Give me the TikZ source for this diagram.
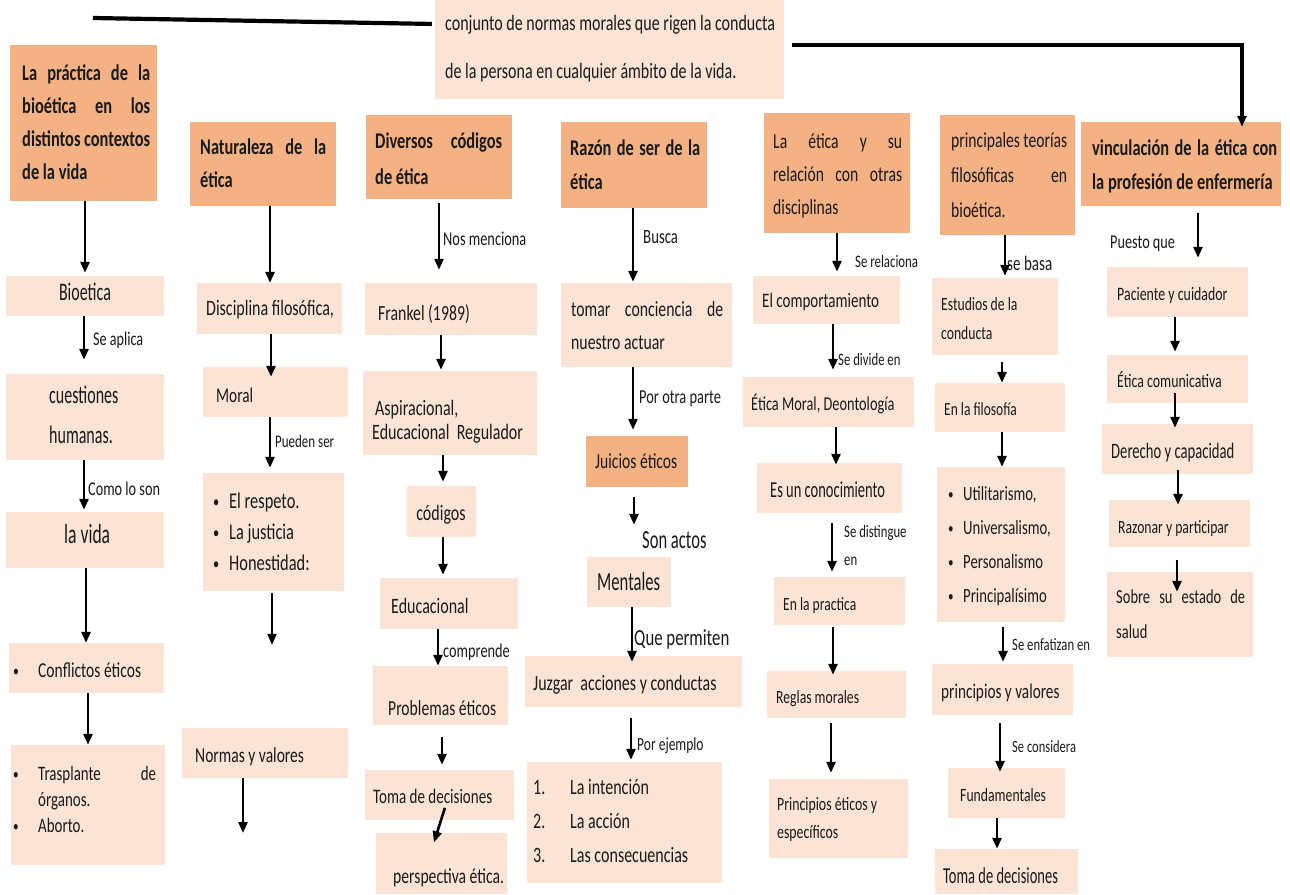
\documentclass[tikz,border=0pt]{standalone}
\usepackage{fontspec}
\setmainfont{Carlito}[FakeStretch=0.73]
\usepackage{graphicx}
\usetikzlibrary{arrows.meta,fit}
\definecolor{hdr}{HTML}{F4B183}
\definecolor{lite}{HTML}{FBE4D5}
\definecolor{ink}{HTML}{1A1A1A}
\newcommand\fsz[1]{\pgfmathsetmacro\myfs{#1*1.045}\fontsize{\myfs}{\myfs}\selectfont}
\newcommand\ml[2]{\vtop{\baselineskip=#1pt\lineskiplimit=-1000pt\relax #2}}
\newcommand\myl[1]{\hbox{#1}}
\newcommand\jl[2]{\hbox to #1pt{#2}}
\newcommand\tallt[2][1.15]{\scalebox{1}[#1]{#2}}
\newcommand\bul[1]{\makebox[#1pt][l]{\raisebox{1pt}{\scalebox{0.75}{\textbullet}}}}
\begin{document}
\begin{tikzpicture}[x=1pt,y=-1pt,
  hbox/.style={fill=hdr, inner sep=0pt, draw=none},
  lbox/.style={fill=lite, inner sep=0pt, draw=none},
  txt/.style={inner sep=0pt, anchor=base west, text=ink},
  lbl/.style={inner sep=0pt, anchor=base west, text=ink},
  arr/.style={draw=black, line width=2.6pt, -{Triangle[length=11pt,width=9pt]}},
  bigline/.style={draw=black, line width=4.2pt}]
\fill[white] (0,0) rectangle (1290,894);
\useasboundingbox (0,0) rectangle (1290,894);

% ---------- boxes ----------
\node[lbox, fit={(435,0) (784,99)}] (top) {};
\node[hbox, fit={(10,45) (157,201)}] (hdr1) {};
\node[hbox, fit={(190,122) (336,206)}] (hdr2) {};
\node[hbox, fit={(366,115) (512,199)}] (hdr3) {};
\node[hbox, fit={(561,122) (707,208)}] (hdr4) {};
\node[hbox, fit={(764,113) (910,233)}] (hdr5) {};
\node[hbox, fit={(940,115) (1075,235)}] (hdr6) {};
\node[hbox, fit={(1081,122) (1281,206)}] (hdr7) {};

\node[lbox, fit={(6,276) (164,316)}] (bio) {};
\node[lbox, fit={(6,374) (164,460)}] (cq) {};
\node[lbox, fit={(6,512) (164,568)}] (vida) {};
\node[lbox, fit={(9,643) (164,693)}] (conf) {};
\node[lbox, fit={(11,745) (165,865)}] (tras) {};

\node[lbox, fit={(197,283) (342,334)}] (disc) {};
\node[lbox, fit={(203,367) (348,417)}] (moral) {};
\node[lbox, fit={(203,473) (344,591)}] (bull) {};
\node[lbox, fit={(182,728) (348,778)}] (normas) {};

\node[lbox, fit={(365,283) (537,335)}] (frank) {};
\node[lbox, fit={(363,371) (537,455)}] (asp) {};
\node[lbox, fit={(407,486) (476,537)}] (cod) {};
\node[lbox, fit={(380,578) (518,629)}] (edu) {};
\node[lbox, fit={(373,666) (508,725)}] (prob) {};
\node[lbox, fit={(365,770) (514,820)}] (tomaA) {};
\node[lbox, fit={(376,833) (507,894)}] (persp) {};

\node[lbox, fit={(561,283) (732,367)}] (tom) {};
\node[hbox, fit={(586,436) (688,487)}] (jui) {};
\node[lbox, fit={(587,557) (671,607)}] (ment) {};
\node[lbox, fit={(525,656) (742,707)}] (juz) {};
\node[lbox, fit={(527,762) (722,883)}] (num) {};

\node[lbox, fit={(753,276) (900,324)}] (comp) {};
\node[lbox, fit={(743,377) (914,427)}] (etm) {};
\node[lbox, fit={(757,463) (902,513)}] (conoc) {};
\node[lbox, fit={(774,577) (905,625)}] (prac) {};
\node[lbox, fit={(767,671) (906,718)}] (reg) {};
\node[lbox, fit={(769,779) (908,858)}] (ppe) {};

\node[lbox, fit={(932,278) (1058,355)}] (est) {};
\node[lbox, fit={(935,383) (1065,432)}] (fil) {};
\node[lbox, fit={(937,467) (1065,622)}] (ut) {};
\node[lbox, fit={(932,664) (1073,715)}] (pv) {};
\node[lbox, fit={(948,768) (1065,818)}] (fund) {};
\node[lbox, fit={(935,849) (1078,894)}] (tdd) {};

\node[lbox, fit={(1107,267) (1248,317)}] (pac) {};
\node[lbox, fit={(1107,355) (1248,403)}] (etc) {};
\node[lbox, fit={(1102,424) (1253,474)}] (der) {};
\node[lbox, fit={(1109,500) (1250,547)}] (raz) {};
\node[lbox, fit={(1107,572) (1253,657)}] (sob) {};

% ---------- texts ----------
\node[txt, font=\fsz{21}] (ttop) at (445,30) {\ml{48}{\myl{conjunto de normas morales que rigen la conducta}\myl{de la persona en cualquier ámbito de la vida.}}};
\node[txt, font=\bfseries\fsz{21.5}] (th1) at (22,80) {\ml{33}{\jl{128}{La\hfill práctica\hfill de\hfill la}\jl{128}{bioética\hfill en\hfill los}\jl{128}{distintos\hfill contextos}\myl{de la vida}}};
\node[txt, font=\bfseries\fsz{21.5}] (th2) at (200,154) {\ml{33}{\jl{126}{Naturaleza\hfill de\hfill la}\myl{ética}}};
\node[txt, font=\bfseries\fsz{21.5}] (th3) at (375,148) {\ml{36}{\jl{127}{Diversos\hfill códigos}\myl{de ética}}};
\node[txt, font=\bfseries\fsz{21.5}] (th4) at (570,155) {\ml{34}{\jl{130}{Razón\hfill de\hfill ser\hfill de\hfill la}\myl{ética}}};
\node[txt, font=\fsz{20.5}] (th5) at (773,148) {\ml{33}{\jl{129}{La\hfill ética\hfill y\hfill su}\jl{129}{relación\hfill con\hfill otras}\myl{disciplinas}}};
\node[txt, font=\fsz{20.5}] (th6) at (951,147) {\ml{35}{\jl{116}{principales\hfill teorías}\jl{116}{filosóficas\hfill en}\myl{bioética.}}};
\node[txt, font=\bfseries\fsz{21.5}] (th7) at (1092,155) {\ml{34}{\jl{185}{vinculación\hfill de\hfill la\hfill ética\hfill con}\myl{la profesión de enfermería}}};

\node[txt, anchor=base, font=\fsz{21}] (tbio) at (85,300) {\tallt{Bioetica}};
\node[txt, font=\fsz{21}] (tcq) at (49,403) {\ml{40}{\myl{\tallt{cuestiones}}\myl{\tallt{humanas.}}}};
\node[txt, font=\fsz{23}] (tvida) at (64,543) {\tallt{la vida}};
\node[txt, font=\fsz{20.4}] (tconf) at (13,677) {\bul{25}Conflictos éticos};
\node[txt, font=\fsz{19.6}] (ttras) at (13,780) {\ml{26}{\myl{\bul{25}\jl{118}{Trasplante\hfill de}}\myl{\hspace{25pt}órganos.}\myl{\bul{25}Aborto.}}};

\node[txt, font=\fsz{21}] (tdisc) at (206,315) {Disciplina filosófica,};
\node[txt, font=\fsz{20}] (tmoral) at (216,402) {Moral};
\node[txt, font=\fsz{21.5}] (tbull) at (213,508) {\ml{31}{\myl{\bul{16}El respeto.}\myl{\bul{16}La justicia}\myl{\bul{16}Honestidad:}}};
\node[txt, font=\fsz{20.4}] (tnormas) at (195,762) {Normas y valores};

\node[txt, font=\fsz{20.7}] (tfrank) at (378,320) {Frankel (1989)};
\node[txt, font=\fsz{21}] (tasp) at (375,415) {\ml{24}{\myl{Aspiracional,}\myl{\hspace{-3pt}Educacional\ \ Regulador}}};
\node[txt, anchor=base, font=\fsz{21}] (tcod) at (441,520) {códigos};
\node[txt, font=\fsz{21}] (tedu) at (391,613) {Educacional};
\node[txt, font=\fsz{20.5}] (tprob) at (388,715) {Problemas éticos};
\node[txt, font=\fsz{19.7}] (ttomaA) at (373,803) {Toma de decisiones};
\node[txt, font=\fsz{20.5}] (tpersp) at (393,883) {perspectiva ética.};

\node[txt, font=\fsz{20.7}] (ttom) at (571,316) {\ml{33}{\jl{152}{tomar\hfill conciencia\hfill de}\myl{nuestro actuar}}};
\node[txt, font=\fsz{20.5}] (tjui) at (595,468) {Juicios éticos};
\node[txt, font=\fsz{21.8}] (tment) at (597,590) {\tallt{Mentales}};
\node[txt, font=\fsz{20.9}] (tjuz) at (533,690) {Juzgar\ \ acciones y conductas};
\node[txt, font=\fsz{21}] (tnum) at (533,794) {\ml{34}{\myl{\makebox[37pt][l]{1.}La intención}\myl{\makebox[37pt][l]{2.}La acción}\myl{\makebox[37pt][l]{3.}Las consecuencias}}};

\node[txt, font=\fsz{19.7}] (tcomp) at (762,307) {El comportamiento};
\node[txt, font=\fsz{18.8}] (tetm) at (751,410) {Ética Moral, Deontología};
\node[txt, font=\fsz{19}] (tconoc) at (770,497) {\tallt{Es un conocimiento}};
\node[txt, font=\fsz{17.8}] (tprac) at (783,610) {En la practica};
\node[txt, font=\fsz{17.9}] (treg) at (776,703) {Reglas morales};
\node[txt, font=\fsz{18.1}] (tppe) at (777,810) {\ml{28}{\myl{Principios éticos y}\myl{específicos}}};

\node[txt, font=\fsz{17.9}] (test) at (941,310) {\ml{29}{\myl{Estudios de la}\myl{conducta}}};
\node[txt, font=\fsz{17.7}] (tfil) at (944,415) {En la filosofía};
\node[txt, font=\fsz{19.3}] (tut) at (948,500) {\ml{34}{\myl{\bul{15}Utilitarismo,}\myl{\bul{15}Universalismo,}\myl{\bul{15}Personalismo}\myl{\bul{15}Principalísimo}}};
\node[txt, font=\fsz{20}] (tpv) at (941,698) {principios y valores};
\node[txt, font=\fsz{18}] (tfund) at (960,801) {Fundamentales};
\node[txt, font=\fsz{19}] (ttdd) at (943,883) {\tallt{Toma de decisiones}};

\node[txt, font=\fsz{18.2}] (tpac) at (1117,300) {Paciente y cuidador};
\node[txt, font=\fsz{18.2}] (tetc) at (1117,387) {Ética comunicativa};
\node[txt, font=\fsz{19.2}] (tder) at (1111,458) {\tallt[1.1]{Derecho y capacidad}};
\node[txt, font=\fsz{17.9}] (traz) at (1118,533) {Razonar y participar};
\node[txt, font=\fsz{19}] (tsob) at (1116,603) {\ml{35}{\jl{129}{Sobre\hfill su\hfill estado\hfill de}\myl{salud}}};

% ---------- labels ----------
\node[lbl, font=\fsz{18.5}] (l1) at (93,345) {Se aplica};
\node[lbl, font=\fsz{18.7}] (l2) at (88,495) {Como lo son};
\node[lbl, font=\fsz{17}] (l3) at (275,447) {Pueden ser};
\node[lbl, font=\fsz{18.8}] (l4) at (443,245) {Nos menciona};
\node[lbl, font=\fsz{18.8}] (l5) at (443,657) {comprende};
\node[lbl, font=\fsz{19.4}] (l6) at (643,243) {Busca};
\node[lbl, font=\fsz{18.9}] (l7) at (639,403) {Por otra parte};
\node[lbl, font=\fsz{21.7}] (l8) at (642,548) {\tallt{Son actos}};
\node[lbl, font=\fsz{22}] (l9) at (634,645) {Que permiten};
\node[lbl, font=\fsz{17.7}] (l10) at (637,750) {Por ejemplo};
\node[lbl, font=\fsz{16.8}] (l11) at (855,267) {Se relaciona};
\node[lbl, font=\fsz{16.7}] (l12) at (838,365) {Se divide en};
\node[lbl, font=\fsz{16.7}] (l13) at (844,537) {\ml{28}{\myl{Se distingue}\myl{en}}};
\node[lbl, font=\fsz{19.8}] (l14) at (1007,270) {se basa};
\node[lbl, font=\fsz{16.6}] (l15) at (1012,650) {Se enfatizan en};
\node[lbl, font=\fsz{16.4}] (l16) at (1012,752) {Se considera};
\node[lbl, font=\fsz{18.7}] (l17) at (1110,248) {Puesto que};

% ---------- top connectors ----------
\coordinate (lend) at (93,18);
\draw[bigline, shorten <=3pt] (top.west |- 0,24) -- (lend);
\draw[arr, line width=3.6pt, shorten <=8pt, shorten >=-5pt] (top.east |- 0,45) -| (hdr7.north -| 1242,0);

% ---------- column arrows ----------
\draw[arr, shorten >=3pt] (hdr1.south -| 85,0) -- (bio.north -| 85,0);
\draw[arr, shorten >=14pt] (bio.south -| 84,0) -- (cq.north -| 84,0);
\draw[arr, shorten >=2pt] (cq.south -| 84,0) -- (vida.north -| 84,0);
\draw[arr] (vida.south -| 86,0) -- (conf.north -| 86,0);
\draw[arr] (conf.south -| 88,0) -- (tras.north -| 88,0);

\draw[arr] (hdr2.south -| 270,0) -- (disc.north -| 270,0);
\draw[arr, shorten >=-10pt] (disc.south -| 271,0) -- (moral.north -| 271,0);
\draw[arr, shorten >=5pt] (moral.south -| 270,0) -- (bull.north -| 270,0);
\draw[arr, shorten <=2pt, shorten >=83pt] (bull.south -| 272,0) -- (normas.north -| 272,0);
\coordinate (nend) at (243,833);
\draw[arr] (normas.south -| 243,0) -- (nend);

\draw[arr, shorten <=4pt, shorten >=13pt] (hdr3.south -| 439,0) -- (frank.north -| 439,0);
\draw[arr, shorten >=1pt] (frank.south -| 441,0) -- (asp.north -| 441,0);
\draw[arr, shorten >=4pt] (asp.south -| 443,0) -- (cod.north -| 443,0);
\draw[arr, shorten >=3pt] (cod.south -| 443,0) -- (edu.north -| 443,0);
\draw[arr] (edu.south -| 438,0) -- (prob.north -| 438,0);
\draw[arr, shorten <=12pt, shorten >=5pt] (prob.south -| 442,0) -- (tomaA.north -| 442,0);
\draw[arr, shorten <=-13pt, shorten >=-10pt] (tomaA.south -| 441,0) -- (persp.north -| 437,0);

\draw[arr, shorten >=1pt] (hdr4.south -| 633,0) -- (tom.north -| 633,0);
\draw[arr, shorten >=6pt] (tom.south -| 633,0) -- (jui.north -| 633,0);
\draw[arr, shorten <=10pt, shorten >=32pt] (jui.south -| 634,0) -- (ment.north -| 634,0);
\draw[arr, shorten >=-6pt] (ment.south -| 632,0) -- (juz.north -| 632,0);
\draw[arr, shorten <=11pt, shorten >=2pt] (juz.south -| 631,0) -- (num.north -| 631,0);

\draw[arr, shorten >=4pt] (hdr5.south -| 837,0) -- (comp.north -| 837,0);
\draw[arr, shorten >=7pt] (comp.south -| 833,0) -- (etm.north -| 833,0);
\draw[arr, shorten >=-2pt] (etm.south -| 836,0) -- (conoc.north -| 836,0);
\draw[arr, shorten <=10pt, shorten >=5pt] (conoc.south -| 832,0) -- (prac.north -| 832,0);
\draw[arr, shorten <=2pt, shorten >=-4pt] (prac.south -| 833,0) -- (reg.north -| 833,0);
\draw[arr, shorten <=5pt, shorten >=6pt] (reg.south -| 831,0) -- (ppe.north -| 831,0);

\draw[arr, shorten >=2pt] (hdr6.south -| 1005,0) -- (est.north -| 1005,0);
\draw[arr, shorten <=7pt] (est.south -| 1002,0) -- (fil.north -| 1002,0);
\draw[arr] (fil.south -| 1002,0) -- (ut.north -| 1002,0);
\draw[arr, shorten <=5pt, shorten >=2pt] (ut.south -| 1003,0) -- (pv.north -| 1003,0);
\draw[arr, shorten <=8pt, shorten >=-4pt] (pv.south -| 1000,0) -- (fund.north -| 1000,0);
\draw[arr] (fund.south -| 997,0) -- (tdd.north -| 997,0);

\draw[arr, shorten <=7pt, shorten >=9pt] (hdr7.south -| 1198,0) -- (pac.north -| 1198,0);
\draw[arr, shorten >=3pt] (pac.south -| 1175,0) -- (etc.north -| 1175,0);
\draw[arr, shorten <=-10pt, shorten >=-4pt] (etc.south -| 1175,0) -- (der.north -| 1175,0);
\draw[arr, shorten <=-4pt, shorten >=-5pt] (der.south -| 1178,0) -- (raz.north -| 1178,0);
\draw[arr, shorten <=13pt, shorten >=-20pt] (raz.south -| 1177,0) -- (sob.north -| 1177,0);
\end{tikzpicture}
\end{document}
